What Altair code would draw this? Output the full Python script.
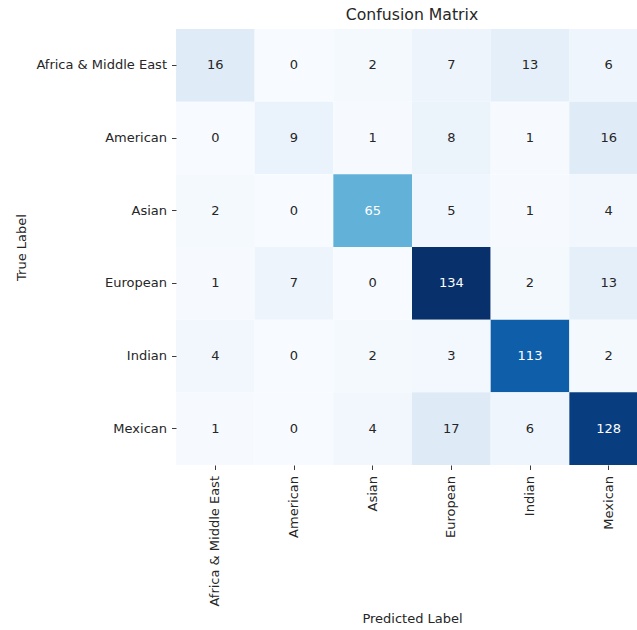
import altair as alt
import pandas as pd

# Class names (rows = true label, columns = predicted label)
classes = ["Africa & Middle East", "American", "Asian", "European", "Indian", "Mexican"]

# Confusion-matrix counts, one list per true class
row_africa = [16, 0, 2, 7, 13, 6]
row_american = [0, 9, 1, 8, 1, 16]
row_asian = [2, 0, 65, 5, 1, 4]
row_european = [1, 7, 0, 134, 2, 13]
row_indian = [4, 0, 2, 3, 113, 2]
row_mexican = [1, 0, 4, 17, 6, 128]

rows = [row_africa, row_american, row_asian, row_european, row_indian, row_mexican]

records = []
for true_name, counts in zip(classes, rows):
    for pred_name, count in zip(classes, counts):
        records.append({"true": true_name, "pred": pred_name, "value": count})
df = pd.DataFrame(records)

vmax = max(max(r) for r in rows)

# Sequential blue ramp, evenly spread over 0..vmax
blues = ["#f7fbff", "#deebf7", "#c6dbef", "#9ecae1", "#5aaed8",
         "#4292c6", "#2171b5", "#0857a6", "#08306b"]
stops = [vmax * i / (len(blues) - 1) for i in range(len(blues))]

FONT = "DejaVu Sans"
INK = "#262626"

base = alt.Chart(df).encode(
    x=alt.X(
        "pred:N",
        sort=classes,
        scale=alt.Scale(paddingInner=0, paddingOuter=0),
        axis=alt.Axis(
            title="Predicted Label",
            labelAngle=270,
            labelFontSize=13,
            labelPadding=6,
            tickSize=4.5,
            tickWidth=0.9,
            tickColor=INK,
            domain=False,
            labelColor=INK,
            titleFontSize=13,
            titleFontWeight="normal",
            titleColor=INK,
            titleY=153,
            titleBaseline="middle",
        ),
    ),
    y=alt.Y(
        "true:N",
        sort=classes,
        scale=alt.Scale(paddingInner=0, paddingOuter=0),
        axis=alt.Axis(
            title="True Label",
            labelFontSize=13,
            labelPadding=5,
            tickSize=4.5,
            tickWidth=0.9,
            tickColor=INK,
            domain=False,
            labelColor=INK,
            titleFontSize=13,
            titleFontWeight="normal",
            titleColor=INK,
            titleX=-155,
            titleY=218,
            titleAngle=270,
            titleBaseline="middle",
        ),
    ),
)

cells = base.mark_rect().encode(
    color=alt.Color(
        "value:Q",
        scale=alt.Scale(domain=stops, range=blues, interpolate="rgb"),
        legend=None,
    )
)

labels = base.mark_text(fontSize=13, font=FONT).encode(
    text=alt.Text("value:Q"),
    color=alt.condition(alt.datum.value > 60, alt.value("white"), alt.value(INK)),
)

chart = (
    alt.layer(cells, labels)
    .properties(
        width=472,
        height=436,
        title=alt.TitleParams(
            "Confusion Matrix",
            fontSize=15.7,
            fontWeight="normal",
            font=FONT,
            color=INK,
            anchor="middle",
            offset=5,
        ),
        autosize=alt.AutoSizeParams(type="none"),
        padding={"left": 176, "top": 29, "right": -11, "bottom": 165},
    )
    .configure(font=FONT)
    .configure_view(strokeWidth=0)
    .configure_axis(labelFont=FONT, titleFont=FONT, grid=False)
)

chart.save("out.html", embed_options={"renderer": "svg", "actions": False})
